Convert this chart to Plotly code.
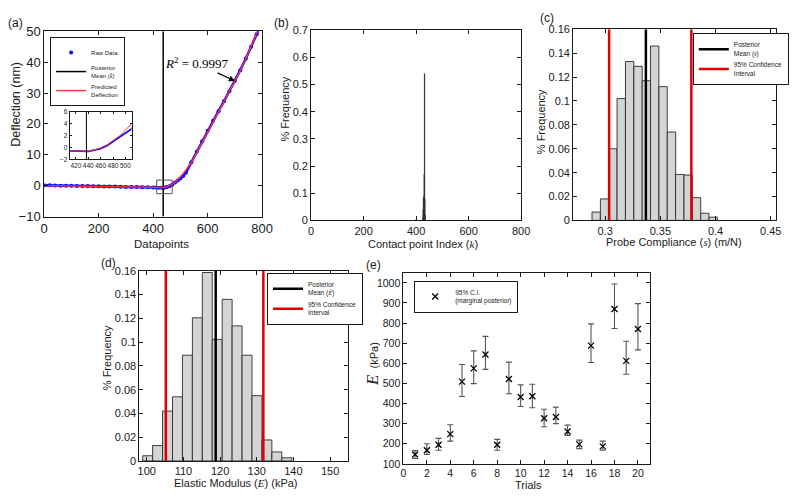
import plotly.graph_objects as go

W, H = 800, 501

# ---------------- data ----------------
# (a) deflection curve
defl_idx = [0, 20, 40, 60, 80, 100, 120, 140, 160, 180, 200, 220, 240, 260, 280, 300, 320, 340,
            360, 380, 400, 410, 420, 430, 440, 450, 460, 470, 480, 490, 500, 510, 520, 540, 560,
            580, 600, 620, 640, 660, 680, 700, 720, 740, 760, 780, 790]
raw_defl = [0.1, 0.1, 0.05, 0.0, 0.0, -0.05, -0.1, -0.1, -0.15, -0.2, -0.2, -0.25, -0.3, -0.3,
            -0.35, -0.4, -0.4, -0.45, -0.5, -0.55, -0.6, -0.62, -0.65, -0.7, -0.65, -0.45, -0.2,
            0.3, 1.0, 1.7, 2.3, 3.1, 4.2, 7.6, 11.0, 14.4, 17.8, 21.0, 24.1, 27.3, 30.6, 33.9,
            37.4, 41.1, 45.0, 49.0, 51.0]
pred_defl = [0.0, -0.03, -0.06, -0.1, -0.13, -0.16, -0.19, -0.23, -0.26, -0.29, -0.32, -0.35,
             -0.39, -0.42, -0.45, -0.48, -0.52, -0.55, -0.58, -0.61, -0.65, -0.66, -0.68, -0.7,
             -0.62, -0.4, -0.1, 0.4, 1.1, 1.9, 2.9, 3.9, 5.0, 7.4, 10.6, 13.9, 17.2, 20.4, 23.6,
             26.9, 30.2, 33.6, 37.2, 41.0, 45.0, 49.2, 51.4]
k_mean = 437
a_xrange = [0, 800]
a_yrange = [-10, 50]
inset_xrange = [410, 510]
inset_yrange = [-2, 6]
zoom_box_x = [413, 470]
zoom_box_y = [-2.6, 1.8]
r2_text = "<i>R</i><sup>2</sup> = 0.9997"
r2_at_idx = 700

# (b) contact point histogram
k_bins = [400, 426, 427, 428, 429, 430, 431, 432, 433, 434]
k_freq = [0.004, 0.01, 0.04, 0.08, 0.08, 0.09, 0.17, 0.54, 0.08, 0.02]
b_yrange = [0, 0.7]

# (c) probe compliance histogram
s_centers = [0.2919, 0.2995, 0.3070, 0.3146, 0.3222, 0.3298, 0.3373, 0.3449, 0.3525, 0.3601,
             0.3676, 0.3752, 0.3828, 0.3903, 0.3979]
s_freq = [0.007, 0.018, 0.060, 0.102, 0.133, 0.129, 0.117, 0.146, 0.112, 0.074, 0.0385,
          0.038, 0.019, 0.006, 0.0027]
s_width = 0.00757
s_mean = 0.3369
s_ci = [0.3036, 0.3781]
c_xrange = [0.271, 0.455]
c_yrange = [0, 0.16]

# (d) elastic modulus histogram
E_centers = [100.25, 102.96, 105.67, 108.38, 111.09, 113.80, 116.51, 119.22, 121.93, 124.64,
             127.35, 130.06, 132.77, 135.48, 138.19]
E_freq = [0.0044, 0.013, 0.042, 0.054, 0.089, 0.1205, 0.1586, 0.1023, 0.136, 0.1137, 0.089,
          0.055, 0.0177, 0.0076, 0.0027]
E_width = 2.71
E_mean = 118.8
E_ci = [105.2, 131.8]
d_xrange = [98, 155]
d_yrange = [0, 0.16]

# (e) trials
trials = list(range(1, 21))
E_trial = [147, 168, 195, 248, 509, 575, 644, 195, 522, 433, 436, 327, 333, 261, 197, 688,
           187, 870, 612, 771]
E_low = [127, 147, 168, 213, 435, 499, 570, 168, 449, 385, 379, 285, 300, 242, 176, 604,
         168, 773, 546, 667]
E_high = [166, 200, 227, 295, 594, 662, 734, 222, 606, 493, 496, 372, 382, 293, 218, 796,
          213, 994, 710, 897]
e_xrange = [0, 21]
e_yrange = [100, 1050]

# tick labels
a_xticks = [0, 200, 400, 600, 800]
a_yticks = [-10, 0, 10, 20, 30, 40, 50]
inset_xticks = [420, 440, 460, 480, 500]
inset_yticks = [-2, 0, 2, 4, 6]
b_xticks = [0, 200, 400, 600, 800]
b_yticks = [0, 0.1, 0.2, 0.3, 0.4, 0.5, 0.6, 0.7]
b_ytext = ["0", "0.1", "0.2", "0.3", "0.4", "0.5", "0.6", "0.7"]
c_xticks = [0.3, 0.35, 0.4, 0.45]
c_xtext = ["0.3", "0.35", "0.4", "0.45"]
hist_yticks = [0, 0.02, 0.04, 0.06, 0.08, 0.1, 0.12, 0.14, 0.16]
hist_ytext = ["0", "0.02", "0.04", "0.06", "0.08", "0.1", "0.12", "0.14", "0.16"]
d_xticks = [100, 110, 120, 130, 140, 150]
e_xticks = list(range(0, 22, 2))
e_yticks = [100, 200, 300, 400, 500, 600, 700, 800, 900, 1000]

# ---------------- styling helpers ----------------
SANS = "Liberation Sans, Arial, sans-serif"
SERIF = "Liberation Serif, Times New Roman, serif"
INK = "#1a1a1a"


def math(s):
    return '<span style="font-family:Liberation Serif"><i>%s</i></span>' % s


def dx(a, b):
    return [a / W, b / W]


def dy(top, bottom):
    return [1 - bottom / H, 1 - top / H]


def ax(domain, rng, anchor, tickvals, ticktext=None, size=11, ticklen=4):
    d = dict(domain=domain, range=rng, anchor=anchor, showline=True, linecolor=INK,
             linewidth=1, mirror="allticks", ticks="inside", ticklen=ticklen, tickcolor=INK,
             showgrid=False, zeroline=False, fixedrange=True, tickvals=tickvals, tickangle=0,
             tickfont=dict(family=SANS, size=size, color=INK))
    if ticktext is not None:
        d["ticktext"] = ticktext
    return d


fig = go.Figure()

# ---- (a) main ----
fig.add_trace(go.Scatter(x=defl_idx, y=raw_defl, mode="markers", name="Raw Data",
                         marker=dict(color="#0000ee", size=4), xaxis="x", yaxis="y",
                         legend="legend"))
fig.add_trace(go.Scatter(x=defl_idx, y=raw_defl, mode="lines", showlegend=False,
                         line=dict(color="#1010ff", width=2.6), xaxis="x", yaxis="y"))
fig.add_trace(go.Scatter(x=[k_mean, k_mean], y=a_yrange, mode="lines",
                         name="Posterior<br>Mean (%s)" % math("k̂"),
                         line=dict(color="black", width=1.5), xaxis="x", yaxis="y",
                         legend="legend"))
fig.add_trace(go.Scatter(x=defl_idx, y=pred_defl, mode="lines", name="Predicted<br>Deflection",
                         line=dict(color="#ff3040", width=1.4), xaxis="x", yaxis="y",
                         legend="legend"))

# ---- (a) inset ----
fig.add_trace(go.Scatter(x=defl_idx, y=raw_defl, mode="lines", showlegend=False,
                         line=dict(color="#1010ff", width=1.8), xaxis="x2", yaxis="y2"))
fig.add_trace(go.Scatter(x=defl_idx, y=pred_defl, mode="lines", showlegend=False,
                         line=dict(color="#ff3040", width=1), xaxis="x2", yaxis="y2"))
fig.add_trace(go.Scatter(x=[k_mean, k_mean], y=inset_yrange, mode="lines", showlegend=False,
                         line=dict(color="black", width=1), xaxis="x2", yaxis="y2"))

# ---- (b) ----
fig.add_trace(go.Bar(x=k_bins, y=k_freq, width=1, showlegend=False,
                     marker=dict(color="black", line=dict(color="#333", width=0.9)),
                     xaxis="x3", yaxis="y3"))

# ---- (c) ----
fig.add_trace(go.Bar(x=s_centers, y=s_freq, width=s_width, showlegend=False,
                     marker=dict(color="#d4d4d4", line=dict(color="#2a2a2a", width=0.9)),
                     xaxis="x4", yaxis="y4"))
fig.add_trace(go.Scatter(x=[s_mean, s_mean], y=c_yrange, mode="lines",
                         name="Posterior<br>Mean (%s)" % math("ŝ"),
                         line=dict(color="black", width=2.5), xaxis="x4", yaxis="y4",
                         legend="legend2"))
fig.add_trace(go.Scatter(x=[s_ci[0], s_ci[0], None, s_ci[1], s_ci[1]],
                         y=[c_yrange[0], c_yrange[1], None, c_yrange[0], c_yrange[1]],
                         mode="lines", name="95% Confidence<br>Interval",
                         line=dict(color="#e00000", width=2.5), xaxis="x4", yaxis="y4",
                         legend="legend2"))

# ---- (d) ----
fig.add_trace(go.Bar(x=E_centers, y=E_freq, width=E_width, showlegend=False,
                     marker=dict(color="#d4d4d4", line=dict(color="#2a2a2a", width=0.9)),
                     xaxis="x5", yaxis="y5"))
fig.add_trace(go.Scatter(x=[E_mean, E_mean], y=d_yrange, mode="lines",
                         name="Posterior<br>Mean (%s)" % math("Ê"),
                         line=dict(color="black", width=2.5), xaxis="x5", yaxis="y5",
                         legend="legend3"))
fig.add_trace(go.Scatter(x=[E_ci[0], E_ci[0], None, E_ci[1], E_ci[1]],
                         y=[d_yrange[0], d_yrange[1], None, d_yrange[0], d_yrange[1]],
                         mode="lines", name="95% Confidence<br>Interval",
                         line=dict(color="#e00000", width=2.5), xaxis="x5", yaxis="y5",
                         legend="legend3"))

# ---- (e) ----
fig.add_trace(go.Scatter(
    x=trials, y=E_trial, mode="markers", name="95% C.I.<br>(marginal posterior)",
    marker=dict(symbol="x-thin", size=6, color="black", line=dict(color="black", width=1.3)),
    error_y=dict(type="data", symmetric=False,
                 array=[h - m for h, m in zip(E_high, E_trial)],
                 arrayminus=[m - l for m, l in zip(E_trial, E_low)],
                 color="#555", thickness=1.1, width=3),
    xaxis="x6", yaxis="y6", legend="legend4"))


def leg(x, y, size=6.5):
    return dict(x=x / W, y=1 - y / H, font=dict(family=SANS, size=size, color=INK),
                bgcolor="white", bordercolor=INK, borderwidth=1, xanchor="left",
                yanchor="top", tracegroupgap=0, itemwidth=30)


annotations = []


def label(text, x, y, size=11, angle=0, family=SANS):
    annotations.append(dict(text=text, x=x / W, y=1 - y / H, xref="paper", yref="paper",
                            showarrow=False, textangle=angle, xanchor="center",
                            yanchor="middle", font=dict(family=family, size=size, color=INK)))


label("(a)", 12, 17, 12)
label("(b)", 283, 16, 12)
label("(c)", 553, 11, 12)
label("(d)", 107, 264, 12)
label("(e)", 377, 266, 12)
label("Deflection (nm)", 12, 100, 12.5, -90)
label("Datapoints", 160, 244, 11.5)
label("% Frequency", 286, 105, 11, -90)
label("Contact point Index (%s)" % math("k"), 427, 244, 11)
label("% Frequency", 548, 118, 11, -90)
label("Probe Compliance (%s) (m/N)" % math("s"), 683, 242, 11)
label("% Frequency", 105, 362, 11, -90)
label("Elastic Modulus (%s) (kPa)" % math("E"), 236, 491, 11)
label('<span style="font-family:Liberation Serif;font-size:17px"><i>E</i></span>  (kPa)',
      376, 368, 11, -90)
label("Trials", 535, 493, 11)

r2_i = defl_idx.index(r2_at_idx)
annotations.append(dict(text=r2_text, x=defl_idx[r2_i], y=raw_defl[r2_i], xref="x", yref="y",
                        ax=562, ay=39.6, axref="x", ayref="y", showarrow=True, arrowhead=2,
                        arrowsize=1, arrowwidth=1.2, arrowcolor="black",
                        font=dict(family=SERIF, size=13, color="black")))

fig.update_layout(
    width=W, height=H, margin=dict(l=0, r=0, t=0, b=0),
    paper_bgcolor="white", plot_bgcolor="white", bargap=0,
    xaxis=ax(dx(41, 263), a_xrange, "y", a_xticks, size=13),
    yaxis=ax(dy(25, 216), a_yrange, "x", a_yticks, size=13),
    xaxis2=ax(dx(67, 130), inset_xrange, "y2", inset_xticks, size=6.5, ticklen=2),
    yaxis2=ax(dy(108, 157), inset_yrange, "x2", inset_yticks, size=6.5, ticklen=2),
    xaxis3=ax(dx(313, 527), [0, 800], "y3", b_xticks),
    yaxis3=ax(dy(24, 220), b_yrange, "x3", b_yticks, b_ytext),
    xaxis4=ax(dx(580, 787), c_xrange, "y4", c_xticks, c_xtext),
    yaxis4=ax(dy(23, 220), c_yrange, "x4", hist_yticks, hist_ytext),
    xaxis5=ax(dx(138, 351), d_xrange, "y5", d_xticks),
    yaxis5=ax(dy(272, 468), d_yrange, "x5", hist_yticks, hist_ytext),
    xaxis6=ax(dx(407, 658), e_xrange, "y6", e_xticks, size=10.5),
    yaxis6=ax(dy(274, 471), e_yrange, "x6", e_yticks, size=10.5),
    legend=leg(47, 31, 6),
    legend2=leg(702, 27),
    legend3=leg(268, 274),
    legend4=leg(418, 282),
    annotations=annotations,
    shapes=[dict(type="rect", xref="x", yref="y", x0=zoom_box_x[0], x1=zoom_box_x[1],
                 y0=zoom_box_y[0], y1=zoom_box_y[1], line=dict(color="#555", width=1))],
    showlegend=True,
    hovermode=False,
)

fig.write_html("out.html", config={"displayModeBar": False, "staticPlot": True},
               post_script="document.body.style.margin='0';"
                           "document.body.style.overflow='hidden';")
